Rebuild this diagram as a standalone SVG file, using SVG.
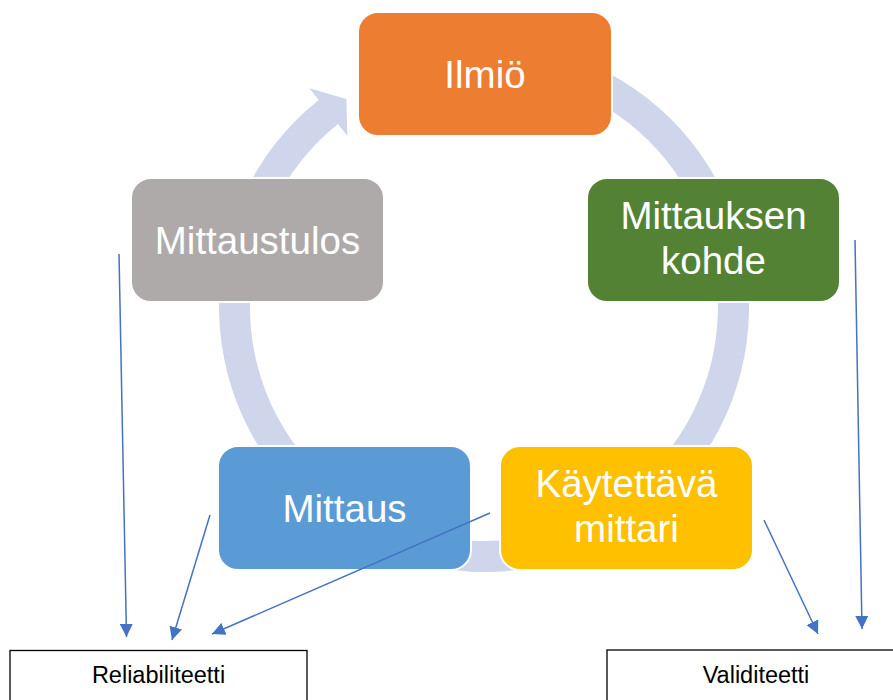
<svg xmlns="http://www.w3.org/2000/svg" width="893" height="700" viewBox="0 0 893 700">
  <style>
    .box { stroke: #ffffff; stroke-width: 2; }
    .lbl { font-family: "Liberation Sans", Arial, sans-serif; font-size: 38.5px; fill: #ffffff; text-anchor: middle; }
    .frame { fill: #ffffff; stroke: #000000; stroke-width: 1.3; }
    .cap { font-family: "Liberation Sans", Arial, sans-serif; font-size: 23.5px; fill: #000000; text-anchor: middle; }
    .link { stroke: #4472C4; stroke-width: 1.5; fill: none; marker-end: url(#tip); }
  </style>
  <defs>
    <marker id="tip" markerUnits="userSpaceOnUse" markerWidth="13" markerHeight="13" refX="13" refY="6.5" orient="auto">
      <path d="M0,0 L13,6.5 L0,13 z" fill="#4472C4"/>
    </marker>
  </defs>

  <rect width="893" height="700" fill="#ffffff"/>

  <!-- cycle ring with arrowhead -->
  <g id="cycle-ring">
    <path d="M507.1,43.0 A265,265 0 1 1 318.7,99.9 L309.3,88.2 L346.3,98.9 L347.4,135.9 L338.0,124.1 A234,234 0 1 0 504.4,73.9 Z" fill="#CFD5EA"/>
  </g>

  <g id="ilmio">
    <rect class="box" x="358" y="12" width="254" height="124" rx="20" fill="#ED7D31"/>
    <text class="lbl" x="485" y="88">Ilmiö</text>
  </g>

  <g id="mittauksen-kohde">
    <rect class="box" x="587" y="178" width="253" height="124" rx="20" fill="#548235"/>
    <text class="lbl" x="713.5" y="229">Mittauksen</text>
    <text class="lbl" x="713.5" y="274">kohde</text>
  </g>

  <g id="kaytettava-mittari">
    <rect class="box" x="500" y="446" width="253" height="124" rx="20" fill="#FFC000"/>
    <text class="lbl" x="626.5" y="497">Käytettävä</text>
    <text class="lbl" x="626.5" y="542">mittari</text>
  </g>

  <g id="mittaus">
    <rect class="box" x="218" y="446" width="253" height="124" rx="20" fill="#5B9BD5"/>
    <text class="lbl" x="344.5" y="522">Mittaus</text>
  </g>

  <g id="mittaustulos">
    <rect class="box" x="131" y="178" width="253" height="124" rx="20" fill="#AEAAAA"/>
    <text class="lbl" x="257.5" y="254">Mittaustulos</text>
  </g>

  <g id="reliabiliteetti">
    <rect class="frame" x="10" y="650.5" width="297" height="60"/>
    <text class="cap" x="158.5" y="683">Reliabiliteetti</text>
  </g>

  <g id="validiteetti">
    <rect class="frame" x="607" y="650" width="297" height="60"/>
    <text class="cap" x="756" y="683">Validiteetti</text>
  </g>

  <g id="connectors">
    <line class="link" x1="119" y1="254" x2="126.5" y2="637"/>
    <line class="link" x1="210" y1="515" x2="172" y2="640"/>
    <line class="link" x1="490" y1="513" x2="212" y2="634"/>
    <line class="link" x1="764" y1="520" x2="818" y2="634"/>
    <line class="link" x1="855" y1="240" x2="862" y2="629"/>
  </g>
</svg>
